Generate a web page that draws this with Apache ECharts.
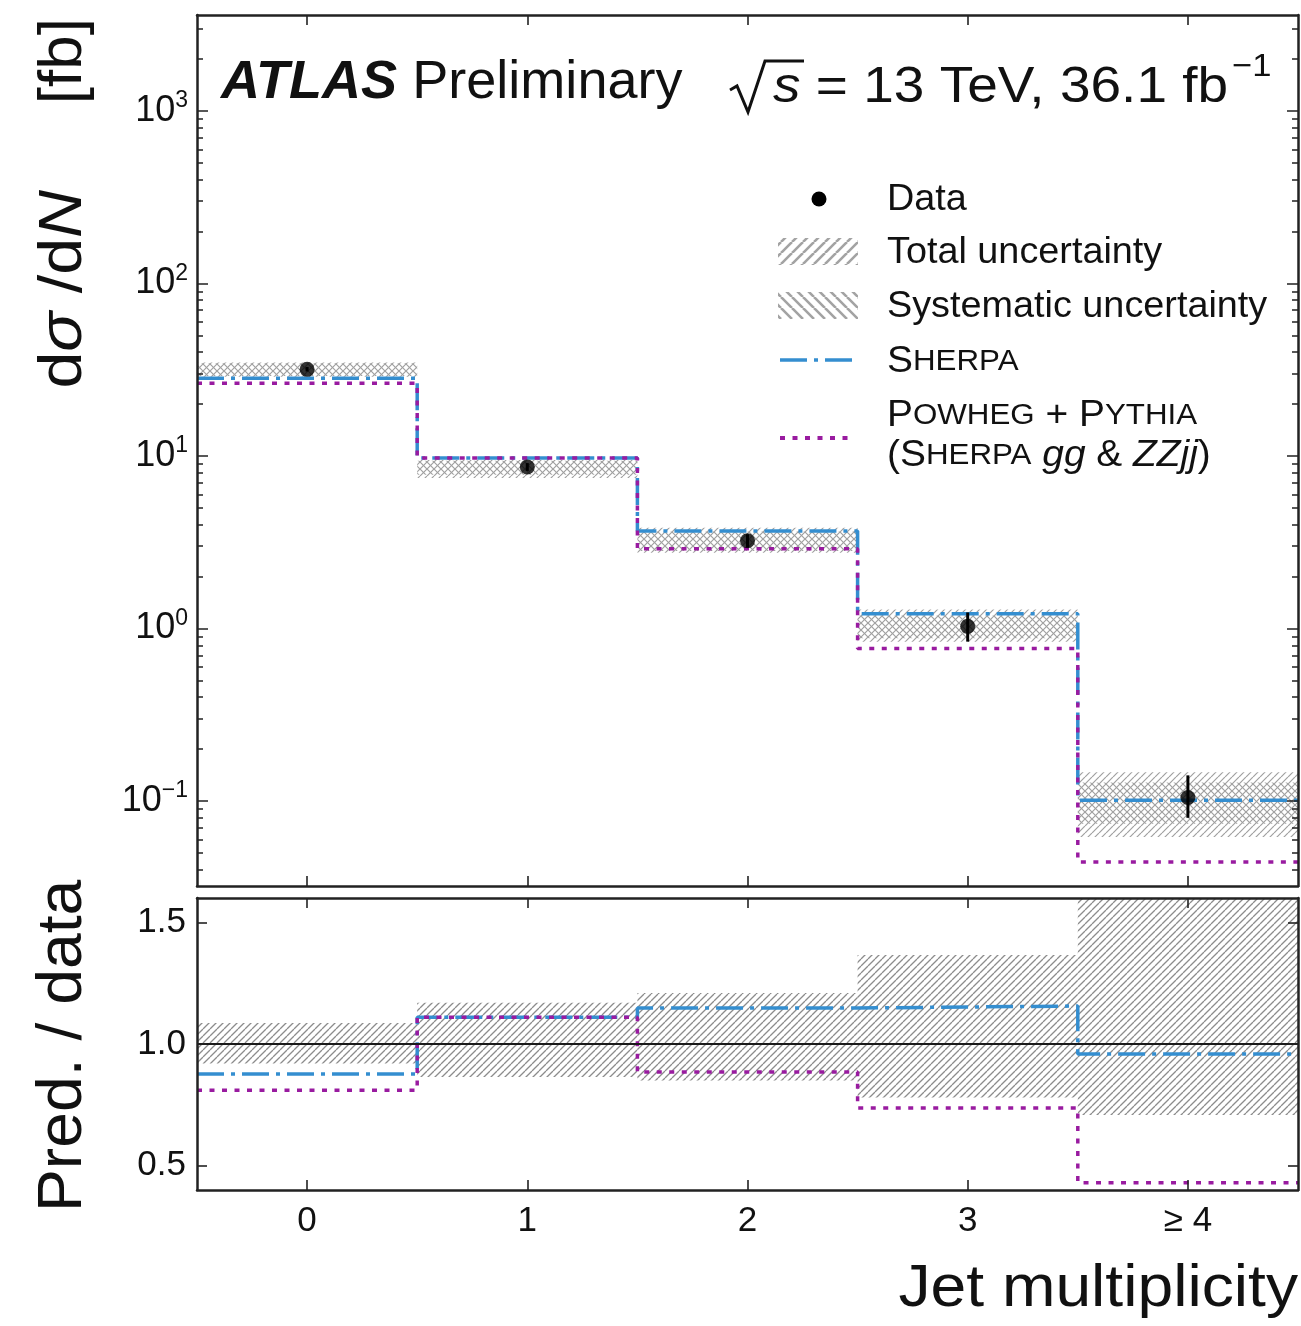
<!DOCTYPE html>
<html>
<head>
<meta charset="utf-8">
<title>ZZ jet multiplicity</title>
<script src="https://cdn.jsdelivr.net/npm/echarts@6/dist/echarts.min.js"></script>
<style>
  html, body { margin: 0; padding: 0; background: #ffffff; }
  #chart { width: 1301px; height: 1326px; }
</style>
</head>
<body>
<div id="chart"></div>
<script>
// ---- measured values -------------------------------------------------------
const categories = ['0', '1', '2', '3', '≥ 4'];
const binCenters = [0, 1, 2, 3, 4];

// dσ/dN [fb]
const dataXsec     = [31.8, 8.64, 3.23, 1.03, 0.105];
const dataStatLow  = [30.9, 8.2, 2.95, 0.84, 0.080];
const dataStatHigh = [32.8, 9.1, 3.52, 1.24, 0.141];
const totalUncLow  = [28.8, 7.46, 2.75, 0.84, 0.062];
const totalUncHigh = [34.8, 9.49, 3.84, 1.29, 0.147];
const systUncLow   = [29.1, 7.8, 2.82, 0.88, 0.074];
const systUncHigh  = [34.5, 9.4, 3.65, 1.19, 0.128];
const sherpaXsec   = [28.2, 9.73, 3.68, 1.22, 0.101];
const powhegXsec   = [26.4, 9.73, 2.90, 0.766, 0.0444];

// Pred. / data
const ratioUncLow  = [0.92, 0.864, 0.85, 0.78, 0.708];
const ratioUncHigh = [1.086, 1.17, 1.21, 1.366, 1.65];
const sherpaRatio  = [0.877, 1.11, 1.148, 1.156, 0.959];
const powhegRatio  = [0.81, 1.11, 0.885, 0.737, 0.43];

// axis ticks
const logTickValues    = [0.1, 1, 10, 100, 1000];
const logTickExponents = ['−1', '0', '1', '2', '3'];
const ratioTickValues  = [0.5, 1.0, 1.5];

// ---- styling ---------------------------------------------------------------
const FONT = '"Liberation Sans", Arial, Helvetica, sans-serif';
const INK = '#111111';
const FRAME = '#222222';
const SHERPA_BLUE = '#348ed0';
const POWHEG_PURPLE = '#991ba0';
const SHERPA_DASH = [27, 7, 4, 7];
const POWHEG_DASH = [5, 7.5];

const Y_MIN = 0.0322, Y_MAX = 3600;
const R_MIN = 0.4, R_MAX = 1.6;

const minorLogTicks = [];
for (let e = -2; e <= 3; e++) {
  for (let k = 2; k <= 9; k++) {
    const v = k * Math.pow(10, e);
    if (v >= Y_MIN && v <= Y_MAX) minorLogTicks.push(v);
  }
}

// diagonal hatch tiles: forward '/' or backward '\'
function hatchTile(size, forward, color, width) {
  const c = document.createElement('canvas');
  c.width = size; c.height = size;
  const g = c.getContext('2d');
  g.strokeStyle = color;
  g.lineWidth = width;
  g.beginPath();
  for (let k = -1; k <= 1; k++) {
    const o = k * size;
    if (forward) { g.moveTo(o, size); g.lineTo(o + size, 0); }
    else { g.moveTo(o, 0); g.lineTo(o + size, size); }
  }
  g.stroke();
  return { type: 'pattern', image: c, repeat: 'repeat' };
}
const hatchTotal   = hatchTile(7, true, '#a0a0a0', 1.2);
const hatchSyst    = hatchTile(7, false, '#a0a0a0', 1.2);
const hatchRatio   = hatchTile(7, true, '#8c8c8c', 1.3);
const hatchLegTot  = hatchTile(11, true, '#a3a3a3', 2.6);
const hatchLegSyst = hatchTile(11, false, '#a3a3a3', 2.6);

// ---- series builders -------------------------------------------------------
function stepData(values) {
  const pts = binCenters.map((c, i) => [c - 0.5, values[i]]);
  pts.push([binCenters[binCenters.length - 1] + 0.5, values[values.length - 1]]);
  return pts;
}

function bandSeries(name, xIdx, yIdx, lo, hi, fill, z) {
  return {
    type: 'custom', name, xAxisIndex: xIdx, yAxisIndex: yIdx, z, silent: true,
    clip: true,
    data: binCenters.map((c, i) => [c, lo[i], hi[i]]),
    encode: { x: 0, y: [1, 2] },
    renderItem(params, api) {
      const c = api.value(0);
      const p0 = api.coord([c - 0.5, api.value(2)]);
      const p1 = api.coord([c + 0.5, api.value(1)]);
      const cs = params.coordSys;
      const shape = echarts.graphic.clipRectByRect(
        { x: p0[0], y: p0[1], width: p1[0] - p0[0], height: p1[1] - p0[1] },
        { x: cs.x, y: cs.y, width: cs.width, height: cs.height }
      );
      if (!shape) return null;
      return { type: 'rect', shape, style: { fill, stroke: null } };
    }
  };
}

function stepSeries(name, xIdx, yIdx, values, color, dash, z, extra) {
  return Object.assign({
    type: 'line', name, xAxisIndex: xIdx, yAxisIndex: yIdx, z, silent: true,
    data: stepData(values), step: 'end',
    symbol: 'none', showSymbol: false,
    lineStyle: { color, width: 3.5, type: dash, cap: 'butt' },
    emphasis: { disabled: true }
  }, extra || {});
}

// ---- axes ------------------------------------------------------------------
function xAxisCfg(gridIndex, position, withLabels) {
  return {
    type: 'value', gridIndex, position, min: -0.5, max: 4.5, z: 10,
    axisLine: { show: true, onZero: false, lineStyle: { color: FRAME, width: 2.5 } },
    axisTick: { show: true, inside: true, length: 10, customValues: binCenters,
                lineStyle: { color: FRAME, width: 1.6 } },
    axisLabel: withLabels ? {
      show: true, customValues: binCenters, margin: 14,
      formatter: v => { const i = binCenters.indexOf(v); return i < 0 ? '' : categories[i]; },
      color: INK, fontSize: 35, fontFamily: FONT
    } : { show: false },
    splitLine: { show: false }, minorTick: { show: false }
  };
}

function logAxisCfg(position, ticks, tickLen, withLine, withLabels) {
  return {
    type: 'log', logBase: 10, gridIndex: 0, position, min: Y_MIN, max: Y_MAX, z: 10,
    axisLine: { show: withLine, onZero: false, lineStyle: { color: FRAME, width: 2.5 } },
    axisTick: { show: true, inside: true, length: tickLen, customValues: ticks,
                lineStyle: { color: FRAME, width: 1.5 } },
    axisLabel: withLabels ? {
      show: true, customValues: logTickValues, margin: 9,
      formatter: v => {
        const i = logTickValues.findIndex(t => Math.abs(t - v) / t < 1e-6);
        return i < 0 ? '' : '{b|10}{e|' + logTickExponents[i] + '}';
      },
      rich: {
        b: { fontSize: 36, lineHeight: 43, fontFamily: FONT, color: INK },
        e: { fontSize: 23, lineHeight: 23, verticalAlign: 'top', fontFamily: FONT, color: INK }
      }
    } : { show: false },
    splitLine: { show: false }, minorTick: { show: false }
  };
}

function ratioAxisCfg(position, withLabels) {
  return {
    type: 'value', gridIndex: 1, position, min: R_MIN, max: R_MAX, z: 10,
    axisLine: { show: true, onZero: false, lineStyle: { color: FRAME, width: 2.5 } },
    axisTick: { show: true, inside: true, length: 10, customValues: ratioTickValues,
                lineStyle: { color: FRAME, width: 1.6 } },
    axisLabel: withLabels ? {
      show: true, customValues: ratioTickValues, margin: 11,
      formatter: v => v.toFixed(1), color: INK, fontSize: 35, fontFamily: FONT
    } : { show: false },
    splitLine: { show: false }, minorTick: { show: false }
  };
}

// ---- legend and annotation graphics ---------------------------------------
function txt(x, y, text, size, opts) {
  const o = opts || {};
  const el = { type: 'text', x, y, z: 50, silent: true };
  if (o.rotation != null) el.rotation = o.rotation;
  if (o.scaleX != null) el.scaleX = o.scaleX;
  const align = o.align || 'left';
  el.style = {
    text, fontSize: size, fontFamily: FONT, fill: INK,
    align, verticalAlign: 'middle', textAlign: align, textVerticalAlign: 'middle'
  };
  if (o.rich) el.style.rich = o.rich;
  return el;
}

const LEG_X = 887, LEG_FS = 36, LEG_SX = 1.05;
const capsRich = (size) => ({
  c: { fontSize: size, fontFamily: FONT, fill: INK },
  s: { fontSize: Math.round(size * 0.8), fontFamily: FONT, fill: INK },
  i: { fontSize: size, fontFamily: FONT, fontStyle: 'italic', fill: INK }
});

const graphics = [
  // experiment label
  txt(221, 83, '{a|ATLAS} {p|Preliminary}', 53, { scaleX: 1.02, rich: {
    a: { fontSize: 53, fontWeight: 'bold', fontStyle: 'italic', fontFamily: FONT, fill: INK },
    p: { fontSize: 53, fontFamily: FONT, fill: INK }
  } }),
  // radical sign over s
  { type: 'polyline', z: 50, silent: true,
    shape: { points: [[730, 90], [737, 86], [748, 112], [765, 61], [804, 61]] },
    style: { stroke: INK, lineWidth: 3, fill: null, lineJoin: 'miter' } },
  txt(773, 88, '{i|s} = 13 TeV, 36.1 fb', 50, { scaleX: 1.1, rich: {
    i: { fontSize: 50, fontStyle: 'italic', fontFamily: FONT, fill: INK }
  } }),
  txt(1232, 67, '−1', 32, { scaleX: 1.08 }),

  // legend
  { type: 'circle', z: 50, silent: true, shape: { cx: 819, cy: 199, r: 7.5 }, style: { fill: '#000' } },
  txt(LEG_X, 200, 'Data', LEG_FS, { scaleX: LEG_SX }),
  { type: 'rect', z: 50, silent: true, shape: { x: 778, y: 238, width: 80, height: 27 }, style: { fill: hatchLegTot } },
  txt(LEG_X, 253, 'Total uncertainty', LEG_FS, { scaleX: LEG_SX }),
  { type: 'rect', z: 50, silent: true, shape: { x: 778, y: 292, width: 80, height: 27 }, style: { fill: hatchLegSyst } },
  txt(LEG_X, 307, 'Systematic uncertainty', LEG_FS, { scaleX: LEG_SX }),
  { type: 'line', z: 50, silent: true, shape: { x1: 780, y1: 360, x2: 856, y2: 360 },
    style: { stroke: SHERPA_BLUE, lineWidth: 3.5, lineDash: SHERPA_DASH } },
  txt(LEG_X, 362, '{c|S}{s|HERPA}', LEG_FS, { scaleX: 1.08, rich: capsRich(LEG_FS) }),
  { type: 'line', z: 50, silent: true, shape: { x1: 780, y1: 438, x2: 854, y2: 438 },
    style: { stroke: POWHEG_PURPLE, lineWidth: 4, lineDash: POWHEG_DASH } },
  txt(LEG_X, 416, '{c|P}{s|OWHEG} + {c|P}{s|YTHIA}', LEG_FS, { scaleX: 1.08, rich: capsRich(LEG_FS) }),
  txt(LEG_X, 456, '({c|S}{s|HERPA} {i|gg} & {i|ZZjj})', LEG_FS, { scaleX: 1.08, rich: capsRich(LEG_FS) }),

  // axis titles
  txt(64, 18, '[fb]', 62, { rotation: Math.PI / 2, align: 'right' }),
  txt(64, 190, '{c|d}{i|σ} {c|/d}{i|N}', 62, { rotation: Math.PI / 2, align: 'right', scaleX: 1.07, rich: {
    c: { fontSize: 62, fontFamily: FONT, fill: INK },
    i: { fontSize: 62, fontFamily: FONT, fontStyle: 'italic', fill: INK }
  } }),
  txt(64, 1212, 'Pred. / data', 63, { rotation: Math.PI / 2, scaleX: 1.02 }),
  txt(1298, 1289, 'Jet multiplicity', 60, { align: 'right', scaleX: 1.07 })
];

// ---- chart -----------------------------------------------------------------
const chart = echarts.init(document.getElementById('chart'), null, { renderer: 'canvas' });

chart.setOption({
  animation: false,
  backgroundColor: '#ffffff',
  tooltip: { show: false },
  grid: [
    { left: 197, top: 15, width: 1101, height: 871, containLabel: false, outerBoundsMode: 'none', show: false },
    { left: 197, top: 898, width: 1101, height: 292, containLabel: false, outerBoundsMode: 'none', show: false }
  ],
  xAxis: [
    xAxisCfg(0, 'bottom', false),
    xAxisCfg(0, 'top', false),
    xAxisCfg(1, 'bottom', true),
    xAxisCfg(1, 'top', false)
  ],
  yAxis: [
    logAxisCfg('left', logTickValues, 11, true, true),
    logAxisCfg('right', logTickValues, 11, true, false),
    logAxisCfg('left', minorLogTicks, 6, false, false),
    logAxisCfg('right', minorLogTicks, 6, false, false),
    ratioAxisCfg('left', true),
    ratioAxisCfg('right', false)
  ],
  series: [
    // upper panel
    bandSeries('Total uncertainty', 0, 0, totalUncLow, totalUncHigh, hatchTotal, 1),
    bandSeries('Systematic uncertainty', 0, 0, systUncLow, systUncHigh, hatchSyst, 1),
    stepSeries('Sherpa', 0, 0, sherpaXsec, SHERPA_BLUE, SHERPA_DASH, 3),
    stepSeries('Powheg + Pythia', 0, 0, powhegXsec, POWHEG_PURPLE, POWHEG_DASH, 4),
    {
      type: 'custom', name: 'Data stat.', xAxisIndex: 0, yAxisIndex: 0, z: 5, silent: true,
      data: binCenters.map((c, i) => [c, dataStatLow[i], dataStatHigh[i]]),
      encode: { x: 0, y: [1, 2] },
      renderItem(params, api) {
        const a = api.coord([api.value(0), api.value(1)]);
        const b = api.coord([api.value(0), api.value(2)]);
        return { type: 'line', shape: { x1: a[0], y1: a[1], x2: b[0], y2: b[1] },
                 style: { stroke: '#000', lineWidth: 3 } };
      }
    },
    {
      type: 'scatter', name: 'Data', xAxisIndex: 0, yAxisIndex: 0, z: 6, silent: true,
      data: binCenters.map((c, i) => [c, dataXsec[i]]),
      symbol: 'circle', symbolSize: 15, itemStyle: { color: '#000' },
      emphasis: { disabled: true }
    },
    // ratio panel
    bandSeries('Total uncertainty (ratio)', 2, 4, ratioUncLow, ratioUncHigh, hatchRatio, 1),
    stepSeries('Sherpa / data', 2, 4, sherpaRatio, SHERPA_BLUE, SHERPA_DASH, 3, {
      markLine: {
        silent: true, symbol: ['none', 'none'], label: { show: false },
        lineStyle: { color: '#1a1a1a', width: 1.8, type: 'solid' },
        emphasis: { disabled: true },
        data: [{ yAxis: 1 }]
      }
    }),
    stepSeries('Powheg / data', 2, 4, powhegRatio, POWHEG_PURPLE, POWHEG_DASH, 4)
  ],
  graphic: { elements: graphics }
});
</script>
</body>
</html>
